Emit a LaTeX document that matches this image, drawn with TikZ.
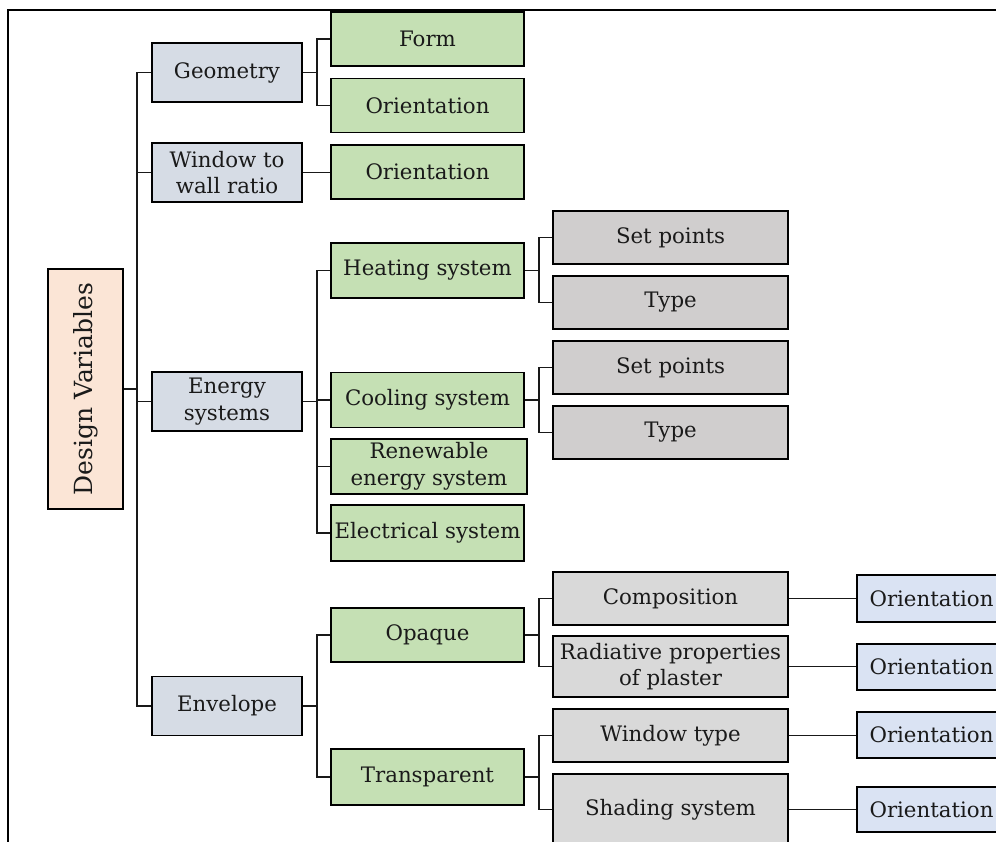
\documentclass[tikz,border=0pt]{standalone}
\usepackage{fontspec}
\setmainfont{DejaVu Serif}
\definecolor{rootfill}{HTML}{FBE5D6}
\definecolor{lvonefill}{HTML}{D6DCE5}
\definecolor{greenfill}{HTML}{C5E0B4}
\definecolor{warmgray}{HTML}{D0CECE}
\definecolor{plaingray}{HTML}{D9D9D9}
\definecolor{paleblue}{HTML}{DAE3F3}
\definecolor{inkcol}{HTML}{1A1A1A}
\tikzset{
  box/.style={draw=black, line width=1.6pt, inner sep=0pt, align=center,
    text=inkcol, font=\fontsize{21.3}{26.5}\selectfont},
  lvone/.style={box, fill=lvonefill, minimum width=150pt, minimum height=59pt},
  greenbox/.style={box, fill=greenfill, minimum width=193pt, minimum height=54pt},
  setbox/.style={box, fill=warmgray, minimum width=235pt, minimum height=53pt},
  envbox/.style={box, fill=plaingray, minimum width=235pt, minimum height=53pt},
  orbox/.style={box, fill=paleblue, minimum width=149pt, minimum height=46pt},
  conn/.style={draw=black!90, line width=1.5pt},
}
\begin{document}
\begin{tikzpicture}[x=1pt,y=-1pt]
\useasboundingbox (0,0) rectangle (996,841);
\clip (0,0) rectangle (996,841);
\fill[white] (0,0) rectangle (996,841);

% outer frame (only its left and top sides are in view)
\draw[line width=2pt] (7.6,850) -- (7.6,9.6) -- (1005,9.6);

% bracket columns
\coordinate (bxa) at (137,0);
\coordinate (bxb) at (317,0);
\coordinate (bxc) at (539,0);

% root
\node[box, fill=rootfill, minimum width=75pt, minimum height=240pt,
      font=\fontsize{25}{30}\selectfont] (dv) at (85.5,389) {\rotatebox{90}{Design Variables}};

% first level
\node[lvone] (geo) at (227,72.5) {Geometry};
\node[lvone] (wwr) at (227,172.5) {Window to\\wall ratio};
\node[lvone] (ens) at (227,401.5) {Energy\\systems};
\node[lvone] (env) at (227,706) {Envelope};

% second level
\node[greenbox] (form) at (427.5,39) {Form};
\node[greenbox] (orga) at (427.5,105.3) {Orientation};
\node[greenbox] (orgb) at (427.5,172) {Orientation};
\node[greenbox, minimum height=55pt] (heat) at (427.5,270.5) {Heating system};
\node[greenbox, minimum height=55pt] (cool) at (427.5,400) {Cooling system};
\node[greenbox, minimum width=196pt, minimum height=55pt] (ren) at (429,466.5) {Renewable\\energy system};
\node[greenbox, minimum height=56pt] (elec) at (427.5,533) {Electrical system};
\node[greenbox] (opq) at (427.5,635) {Opaque};
\node[greenbox, minimum height=56pt] (trn) at (427.5,777) {Transparent};

% third level
\node[setbox] (spa) at (670.5,237.5) {Set points};
\node[setbox] (tya) at (670.5,302.5) {Type};
\node[setbox] (spb) at (670.5,367.5) {Set points};
\node[setbox] (tyb) at (670.5,432.5) {Type};
\node[envbox] (comp) at (670.5,598.5) {Composition};
\node[envbox, minimum height=61pt] (rad) at (670.5,666.5) {Radiative properties\\of plaster};
\node[envbox] (wint) at (670.5,735.5) {Window type};
\node[envbox, minimum height=71pt] (shad) at (670.5,809.5) {Shading system};

% fourth level
\node[orbox, minimum height=47pt] (ora) at (931.5,598.5) {Orientation};
\node[orbox] (orb) at (931.5,667) {Orientation};
\node[orbox] (orc) at (931.5,735) {Orientation};
\node[orbox, minimum height=45pt] (ord) at (931.5,809.5) {Orientation};

% trunk
\draw[conn] (dv.east) -- (dv.east -| bxa);
\draw[conn] (geo.west) -- (geo.west -| bxa) -- (env.west -| bxa) -- (env.west);
\draw[conn] (wwr.west) -- (wwr.west -| bxa);
\draw[conn] (ens.west) -- (ens.west -| bxa);

% geometry
\draw[conn] (geo.east) -- (geo.east -| bxb);
\draw[conn] (form.west) -- (form.west -| bxb) -- (orga.west -| bxb) -- (orga.west);
\draw[conn] (wwr.east) -- (wwr.east -| orgb.west);

% energy systems
\draw[conn] (ens.east) -- (ens.east -| bxb);
\draw[conn] (heat.west) -- (heat.west -| bxb) -- (elec.west -| bxb) -- (elec.west);
\draw[conn] (cool.west) -- (cool.west -| bxb);
\draw[conn] (ren.west) -- (ren.west -| bxb);
\draw[conn] (heat.east) -- (heat.east -| bxc);
\draw[conn] (spa.west) -- (spa.west -| bxc) -- (tya.west -| bxc) -- (tya.west);
\draw[conn] (cool.east) -- (cool.east -| bxc);
\draw[conn] (spb.west) -- (spb.west -| bxc) -- (tyb.west -| bxc) -- (tyb.west);

% envelope
\draw[conn] (env.east) -- (env.east -| bxb);
\draw[conn] (opq.west) -- (opq.west -| bxb) -- (trn.west -| bxb) -- (trn.west);
\draw[conn] (opq.east) -- (opq.east -| bxc);
\draw[conn] (comp.west) -- (comp.west -| bxc) -- (rad.west -| bxc) -- (rad.west);
\draw[conn] (trn.east) -- (trn.east -| bxc);
\draw[conn] (wint.west) -- (wint.west -| bxc) -- (shad.west -| bxc) -- (shad.west);
\draw[conn] (comp.east) -- (comp.east -| ora.west);
\draw[conn] (rad.east) -- (rad.east -| orb.west);
\draw[conn] (wint.east) -- (wint.east -| orc.west);
\draw[conn] (shad.east) -- (shad.east -| ord.west);
\end{tikzpicture}
\end{document}
